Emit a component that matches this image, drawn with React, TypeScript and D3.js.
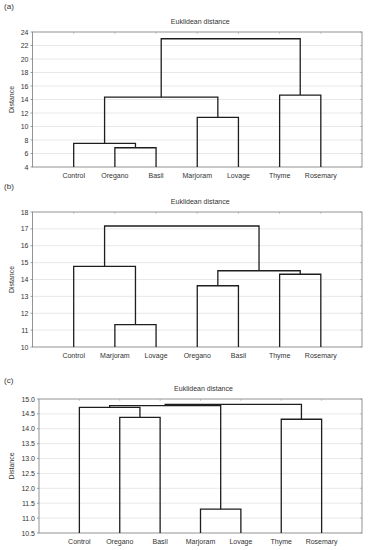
import React from 'react';
import * as d3 from 'd3';

// leaf order and linkage (child a, child b, height); ids >= 7 refer to earlier merges
const leavesA = ['Control', 'Oregano', 'Basil', 'Marjoram', 'Lovage', 'Thyme', 'Rosemary'];
const mergesA: [number, number, number][] = [
  [1, 2, 6.85], [0, 7, 7.5], [3, 4, 11.35], [8, 9, 14.35], [5, 6, 14.65], [10, 11, 23.0],
];
const ticksA = [4, 6, 8, 10, 12, 14, 16, 18, 20, 22, 24];

const leavesB = ['Control', 'Marjoram', 'Lovage', 'Oregano', 'Basil', 'Thyme', 'Rosemary'];
const mergesB: [number, number, number][] = [
  [1, 2, 11.33], [0, 7, 14.78], [3, 4, 13.63], [5, 6, 14.31], [9, 10, 14.52], [8, 11, 17.17],
];
const ticksB = [10, 11, 12, 13, 14, 15, 16, 17, 18];

const leavesC = ['Control', 'Oregano', 'Basil', 'Marjoram', 'Lovage', 'Thyme', 'Rosemary'];
const mergesC: [number, number, number][] = [
  [1, 2, 14.38], [0, 7, 14.72], [3, 4, 11.3], [8, 9, 14.78], [5, 6, 14.32], [10, 11, 14.82],
];
const ticksC = [10.5, 11, 11.5, 12, 12.5, 13, 13.5, 14, 14.5, 15];

const FONT = '"Liberation Sans", Arial, sans-serif';
const TXT = '#333';

interface PanelProps {
  tag: string;
  leaves: string[];
  merges: [number, number, number][];
  ticks: number[];
  fmt: (v: number) => string;
  top: number;
  bottom: number;
  left: number;
  right: number;
  tagY: number;
  titleY: number;
}

const Panel: React.FC<PanelProps> = ({ tag, leaves, merges, ticks, fmt, top, bottom, left, right, tagY, titleY }) => {
  const x = d3.scalePoint<string>().domain(leaves).range([left, right]).padding(1);
  const y = d3.scaleLinear().domain(d3.extent(ticks) as [number, number]).range([bottom, top]);
  const yMin = y.domain()[0];

  // node positions: leaves first, then each merge
  const nodes: { x: number; h: number }[] = leaves.map(l => ({ x: x(l) as number, h: yMin }));
  const lines: string[] = [];
  merges.forEach(([a, b, h]) => {
    const na = nodes[a];
    const nb = nodes[b];
    const path = d3.path();
    path.moveTo(na.x, y(na.h));
    path.lineTo(na.x, y(h));
    path.lineTo(nb.x, y(h));
    path.lineTo(nb.x, y(nb.h));
    lines.push(path.toString());
    nodes.push({ x: (na.x + nb.x) / 2, h });
  });

  return (
    <g fontFamily={FONT} fill={TXT}>
      <text x={4} y={tagY} fontSize={8} dominantBaseline="central">({tag})</text>
      <text x={(left + right) / 2 + 3} y={titleY} fontSize={7} textAnchor="middle" dominantBaseline="central">
        Euklidean distance
      </text>
      <text
        transform={`translate(11,${(top + bottom) / 2}) rotate(-90)`}
        fontSize={7}
        textAnchor="middle"
        dominantBaseline="central"
      >
        Distance
      </text>
      {ticks.map(t => (
        <g key={t}>
          {t !== ticks[0] && t !== ticks[ticks.length - 1] && (
            <line x1={left} x2={right} y1={y(t)} y2={y(t)} stroke="#e2e2e2" strokeWidth={0.8} />
          )}
          <line x1={left - 2} x2={left} y1={y(t)} y2={y(t)} stroke="#888" strokeWidth={0.8} />
          <line x1={right - 2} x2={right} y1={y(t)} y2={y(t)} stroke="#aaa" strokeWidth={0.6} />
          <text x={left - 4} y={y(t)} fontSize={7} textAnchor="end" dominantBaseline="central">
            {fmt(t)}
          </text>
        </g>
      ))}
      {leaves.map(l => (
        <g key={l}>
          <line x1={x(l)} x2={x(l)} y1={top} y2={top + 2} stroke="#aaa" strokeWidth={0.6} />
          <text x={x(l)} y={bottom + 8} fontSize={7} textAnchor="middle" dominantBaseline="central">
            {l}
          </text>
        </g>
      ))}
      <rect x={left} y={top} width={right - left} height={bottom - top} fill="none" stroke="#888" strokeWidth={0.9} />
      {lines.map((d, i) => (
        <path key={i} d={d} fill="none" stroke="#1e1e1e" strokeWidth={1.3} />
      ))}
    </g>
  );
};

export default function App() {
  return (
    <svg width={372} height={550} style={{ position: 'absolute', left: 0, top: 0, background: '#fff' }}>
      <rect width={372} height={550} fill="#fff" />
      <Panel tag="a" leaves={leavesA} merges={mergesA} ticks={ticksA} fmt={d3.format('d')}
        top={32} bottom={167} left={32.5} right={362} tagY={6} titleY={21} />
      <Panel tag="b" leaves={leavesB} merges={mergesB} ticks={ticksB} fmt={d3.format('d')}
        top={212} bottom={347} left={32.5} right={362} tagY={186} titleY={201} />
      <Panel tag="c" leaves={leavesC} merges={mergesC} ticks={ticksC} fmt={d3.format('.1f')}
        top={399} bottom={533} left={39} right={362} tagY={380} titleY={388} />
    </svg>
  );
}
